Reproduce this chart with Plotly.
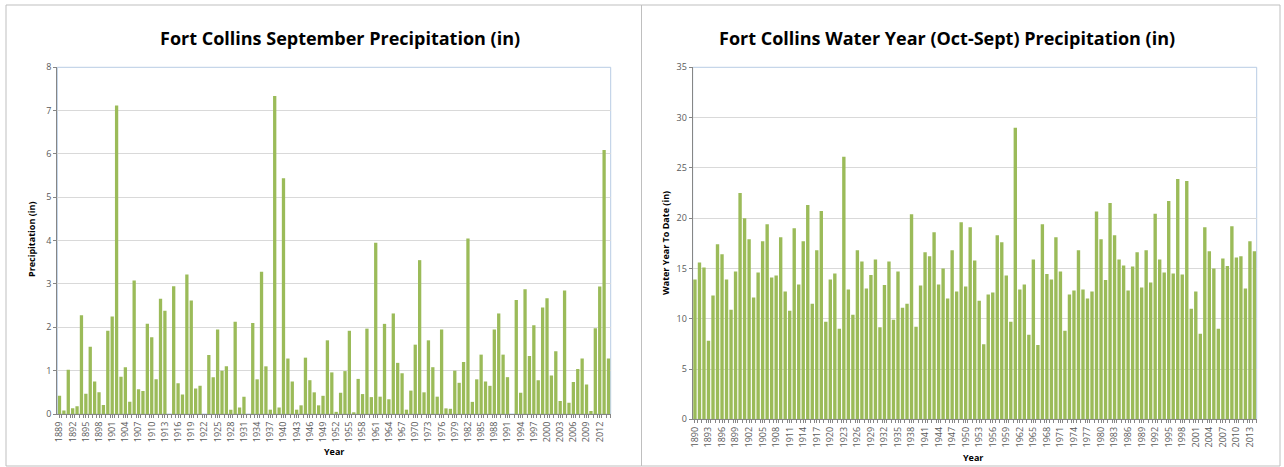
import plotly.graph_objects as go

sept_years = list(range(1889, 2015))
sept_precip = [
    0.42, 0.08, 1.02, 0.13, 0.18, 2.28, 0.47, 1.55, 0.75, 0.50,
    0.21, 1.92, 2.25, 7.12, 0.86, 1.08, 0.28, 3.08, 0.57, 0.53,
    2.08, 1.77, 0.80, 2.66, 2.38, 0.00, 2.95, 0.71, 0.45, 3.22,
    2.62, 0.59, 0.65, 0.00, 1.36, 0.85, 1.95, 1.00, 1.10, 0.10,
    2.13, 0.15, 0.40, 0.00, 2.10, 0.80, 3.28, 1.10, 0.10, 7.34,
    0.15, 5.44, 1.28, 0.75, 0.10, 0.20, 1.30, 0.78, 0.50, 0.20,
    0.42, 1.70, 0.96, 0.05, 0.49, 0.99, 1.92, 0.03, 0.81, 0.46,
    1.97, 0.39, 3.95, 0.40, 2.08, 0.34, 2.32, 1.18, 0.94, 0.10,
    0.54, 1.60, 3.55, 0.50, 1.70, 1.08, 0.40, 1.95, 0.13, 0.12,
    1.00, 0.72, 1.20, 4.05, 0.28, 0.80, 1.37, 0.75, 0.65, 1.95,
    2.32, 1.37, 0.85, 0.00, 2.63, 0.49, 2.88, 1.34, 2.05, 0.78,
    2.46, 2.67, 0.89, 1.45, 0.30, 2.85, 0.26, 0.74, 1.04, 1.28,
    0.68, 0.07, 1.98, 2.94, 6.09, 1.28,
]

wy_years = list(range(1890, 2015))
wy_precip = [
    13.9, 15.6, 15.1, 7.8, 12.3, 17.4, 16.4, 13.9, 10.9, 14.7,
    22.5, 20.0, 17.9, 12.1, 14.6, 17.7, 19.4, 14.1, 14.3, 18.1,
    12.7, 10.8, 19.0, 13.4, 17.7, 21.3, 11.5, 16.8, 20.7, 9.7,
    13.9, 14.5, 9.0, 26.1, 12.9, 10.4, 16.8, 15.7, 13.0, 14.35,
    15.9, 9.15, 13.36, 15.7, 9.9, 14.7, 11.1, 11.5, 20.4, 9.2,
    13.3, 16.6, 16.2, 18.6, 13.4, 15.0, 12.0, 16.8, 12.7, 19.6,
    13.2, 19.1, 15.8, 11.8, 7.46, 12.4, 12.6, 18.3, 17.6, 14.3,
    9.7, 29.0, 12.9, 13.4, 8.4, 15.9, 7.4, 19.4, 14.45, 13.9,
    18.1, 14.7, 8.8, 12.4, 12.8, 16.8, 12.9, 12.0, 12.7, 20.65,
    17.9, 13.85, 21.5, 18.3, 15.9, 15.3, 12.8, 15.2, 16.6, 13.1,
    16.8, 13.6, 20.45, 15.9, 14.6, 21.7, 14.5, 23.9, 14.4, 23.7,
    11.0, 12.7, 8.5, 19.1, 16.7, 15.0, 9.0, 16.0, 15.25, 19.2,
    16.1, 16.2, 13.0, 17.7, 16.7,
]

sept_title = "Fort Collins September Precipitation (in)"
wy_title = "Fort Collins Water Year (Oct-Sept) Precipitation (in)"
sept_ytitle = "Precipitation (in)"
wy_ytitle = "Water Year To Date (in)"
xtitle = "Year"

BAR = "#9bbb59"
GRID = "#d9d9d9"
AXIS = "#868686"
TICKC = "#595959"
FONT = "Open Sans"
W, H = 1284, 467

def px_x(p):
    return p / W

def px_y(p):
    return 1 - p / H

fig = go.Figure()
fig.add_trace(go.Bar(x=sept_years, y=sept_precip, marker=dict(color=BAR, line=dict(width=0)),
                     xaxis="x", yaxis="y", showlegend=False))
fig.add_trace(go.Bar(x=wy_years, y=wy_precip, marker=dict(color=BAR, line=dict(width=0)),
                     xaxis="x2", yaxis="y2", showlegend=False))

def xaxis_cfg(years, domain, anchor):
    return dict(
        domain=domain, anchor=anchor, automargin=False,
        range=[years[0] - 0.5, years[-1] + 0.5],
        tickvals=years[::3], ticktext=[str(y) for y in years[::3]],
        tickangle=-90, tickfont=dict(family=FONT, size=9, color=TICKC),
        showgrid=False, showline=True, linecolor=AXIS, linewidth=1,
        ticks="outside", ticklen=3, tickcolor=AXIS,
        minor=dict(tickvals=[y + 0.5 for y in years], ticks="outside", ticklen=3, tickcolor=AXIS),
        zeroline=False, fixedrange=True,
    )

def yaxis_cfg(domain, anchor, rng, dtick):
    return dict(
        domain=domain, anchor=anchor, range=rng, dtick=dtick, automargin=False,
        tickfont=dict(family=FONT, size=9, color=TICKC),
        showgrid=True, gridcolor=GRID, gridwidth=1,
        showline=True, linecolor=AXIS, linewidth=1,
        ticks="outside", ticklen=3, tickcolor=AXIS,
        zeroline=False, fixedrange=True,
    )

fig.update_layout(
    width=W, height=H,
    margin=dict(l=0, r=0, t=0, b=0, pad=0, autoexpand=False),
    paper_bgcolor="white", plot_bgcolor="white",
    bargap=0.25,
    xaxis=xaxis_cfg(sept_years, [px_x(57.3), px_x(610.7)], "y"),
    yaxis=yaxis_cfg([px_y(414), px_y(67.3)], "x", [0, 8], 1),
    xaxis2=xaxis_cfg(wy_years, [px_x(692.7), px_x(1256.7)], "y2"),
    yaxis2=yaxis_cfg([px_y(419.3), px_y(67.3)], "x2", [0, 35], 5),
    font=dict(family=FONT),
)

shapes = [
    dict(type="rect", xref="paper", yref="paper", x0=px_x(6), x1=px_x(641.5), y0=px_y(466), y1=px_y(5),
         line=dict(color="#bfbfbf", width=1), layer="below"),
    dict(type="rect", xref="paper", yref="paper", x0=px_x(641.5), x1=px_x(1280), y0=px_y(466), y1=px_y(5),
         line=dict(color="#bfbfbf", width=1), layer="below"),
    dict(type="rect", xref="x domain", yref="y domain", x0=0, x1=1, y0=0, y1=1,
         line=dict(color="#b8cce4", width=1), layer="below"),
    dict(type="rect", xref="x2 domain", yref="y2 domain", x0=0, x1=1, y0=0, y1=1,
         line=dict(color="#b8cce4", width=1), layer="below"),
]
fig.update_layout(shapes=shapes)

ann = [
    dict(text="<b>" + sept_title + "</b>", x=px_x(340), y=px_y(38), xref="paper", yref="paper",
         showarrow=False, font=dict(family=FONT, size=18, color="#000000"), xanchor="center", yanchor="middle"),
    dict(text="<b>" + wy_title + "</b>", x=px_x(947), y=px_y(38), xref="paper", yref="paper",
         showarrow=False, font=dict(family=FONT, size=18, color="#000000"), xanchor="center", yanchor="middle"),
    dict(text="<b>" + sept_ytitle + "</b>", x=px_x(31), y=px_y(240), xref="paper", yref="paper",
         showarrow=False, textangle=-90, font=dict(family=FONT, size=9, color="#000000"),
         xanchor="center", yanchor="middle"),
    dict(text="<b>" + wy_ytitle + "</b>", x=px_x(665), y=px_y(243), xref="paper", yref="paper",
         showarrow=False, textangle=-90, font=dict(family=FONT, size=9, color="#000000"),
         xanchor="center", yanchor="middle"),
    dict(text="<b>" + xtitle + "</b>", x=px_x(334), y=px_y(451), xref="paper", yref="paper",
         showarrow=False, font=dict(family=FONT, size=9, color="#000000"), xanchor="center", yanchor="middle"),
    dict(text="<b>" + xtitle + "</b>", x=px_x(973), y=px_y(457), xref="paper", yref="paper",
         showarrow=False, font=dict(family=FONT, size=9, color="#000000"), xanchor="center", yanchor="middle"),
]
fig.update_layout(annotations=ann)

fig.write_html(
    "out.html",
    config=dict(displayModeBar=False),
    post_script="document.body.style.margin='0';document.body.style.padding='0';document.body.style.overflow='hidden';",
)
